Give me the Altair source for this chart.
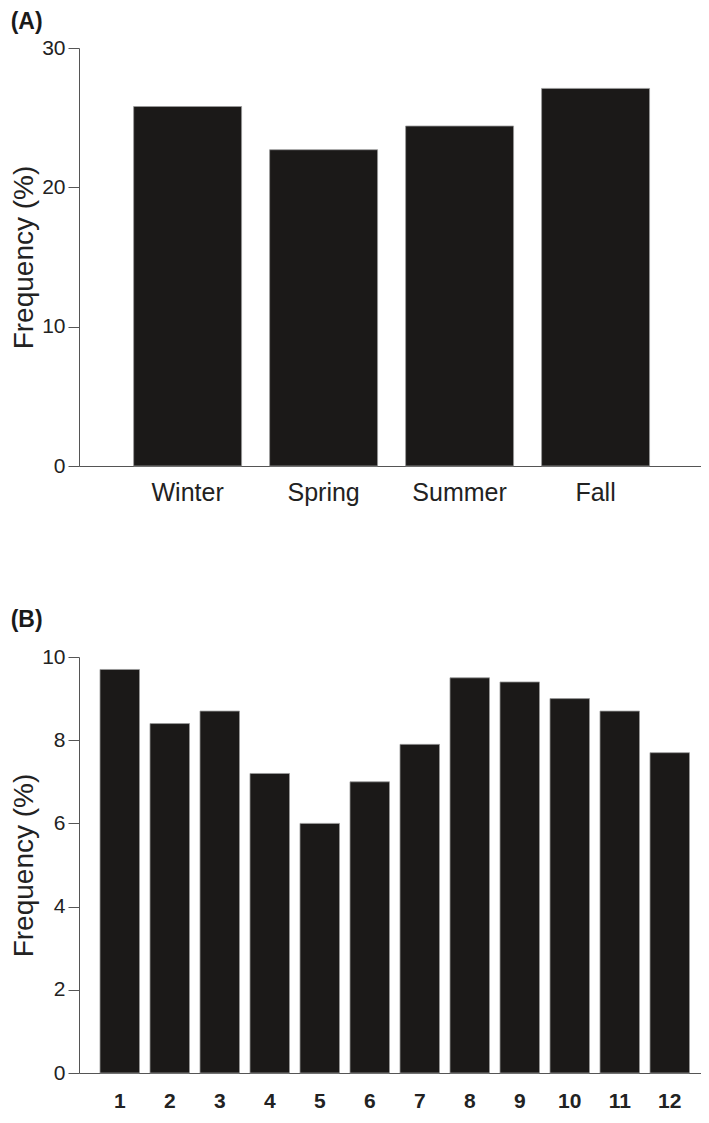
import altair as alt
import pandas as pd

seasons = ["Winter", "Spring", "Summer", "Fall"]
season_freq = [25.8, 22.7, 24.4, 27.1]

months = ["1", "2", "3", "4", "5", "6", "7", "8", "9", "10", "11", "12"]
month_freq = [9.7, 8.4, 8.7, 7.2, 6.0, 7.0, 7.9, 9.5, 9.4, 9.0, 8.7, 7.7]

dfA = pd.DataFrame({"season": seasons, "freq": season_freq})
dfB = pd.DataFrame({"month": months, "freq": month_freq})

FONT = "Liberation Sans"
BAR = "#1b1918"

def title(txt, off):
    return alt.TitleParams(txt, anchor="start", frame="bounds", fontSize=23,
                           fontWeight="bold", font=FONT, color="#1a1a1a", offset=off)

a = alt.Chart(dfA, title=title("(A)", 3)).mark_bar(
    color=BAR, stroke="#9a9a9a", strokeWidth=0.8
).encode(
    x=alt.X("season:N", sort=seasons, title=None,
            scale=alt.Scale(paddingInner=0.206, paddingOuter=0.39, align=0.515),
            axis=alt.Axis(labelAngle=0, ticks=False, labelFontSize=25,
                          labelPadding=14)),
    y=alt.Y("freq:Q", title="Frequency (%)",
            scale=alt.Scale(domain=[0, 30], nice=False),
            axis=alt.Axis(values=[0, 10, 20, 30], grid=False)),
).properties(width=622, height=418)

b = alt.Chart(dfB, title=title("(B)", 14)).mark_bar(
    color=BAR, stroke="#9a9a9a", strokeWidth=0.8
).encode(
    x=alt.X("month:N", sort=months, title=None,
            scale=alt.Scale(paddingInner=0.21, paddingOuter=0.325, align=0.646),
            axis=alt.Axis(labelAngle=0, ticks=False, labelFontSize=21,
                          labelFontWeight="bold", labelPadding=17)),
    y=alt.Y("freq:Q", title="Frequency (%)",
            scale=alt.Scale(domain=[0, 10], nice=False),
            axis=alt.Axis(values=[0, 2, 4, 6, 8, 10], grid=False)),
).properties(width=622, height=416)

chart = alt.vconcat(a, b, spacing=104).properties(
    padding={"left": 2, "top": 3, "right": 0, "bottom": 0}
).configure_view(stroke=None).configure_axis(
    domainColor="#555555", tickColor="#555555", tickSize=11,
    labelColor="#222222", titleColor="#222222",
    labelFont=FONT, titleFont=FONT, labelFontSize=21, labelPadding=3,
    titleFontSize=28, titleFontWeight="normal", titlePadding=3,
)

chart.save("out.html", embed_options={"renderer": "svg", "actions": False})
